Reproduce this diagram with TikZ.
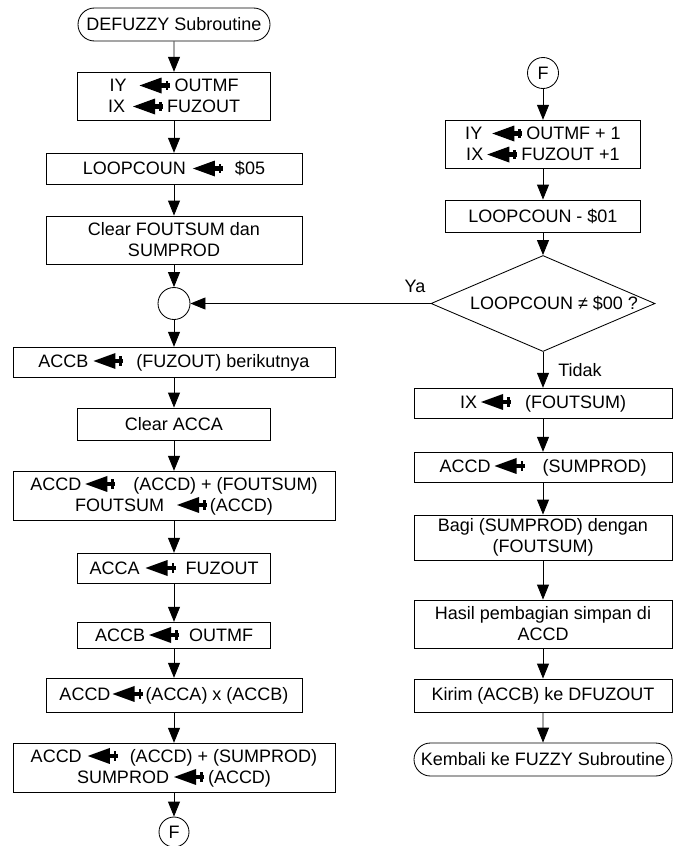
\documentclass[tikz,border=0pt]{standalone}
\usepackage{fontspec}
\setmainfont{Liberation Sans}
\usetikzlibrary{arrows.meta,shapes.geometric,shapes.misc}
\newcommand\fatarr{\tikz[baseline={(0,-6.3bp)},x=1bp,y=1bp]{\fill (0,0)--(22,8)--(22,-8)--cycle; \fill (21,-2.4) rectangle (30,2.4); \fill (26,-4.6) rectangle (28.5,4.6);}}
\newcommand\gp[1]{\hspace*{#1bp}}
\begin{document}
\begin{tikzpicture}[x=1bp,y=-1bp, line width=0.85bp,
 every node/.style={font=\fontsize{18bp}{21bp}\selectfont, inner sep=0pt},
 box/.style 2 args={draw, rectangle, align=center, minimum width=#1, minimum height=#2},
 term/.style 2 args={draw, rounded rectangle, align=center, minimum width=#1, minimum height=#2},
 conn/.style={draw, circle, minimum size=#1},
 flow/.style={-{Triangle[length=15bp,width=12bp]}}]
\useasboundingbox (0,0) rectangle (680,846);
% left column
\node[term={192bp}{33bp}] (t1) at (174,24.5) {DEFUZZY Subroutine};
\node[box={193bp}{48bp}] (b2) at (174,96) {IY\gp{13}\fatarr\gp{5}OUTMF\\IX\gp{8}\fatarr\gp{4}FUZOUT};
\node[box={256bp}{31bp}] (b3) at (174,168.5) {LOOPCOUN\gp{7}\fatarr\gp{12}\$05};
\node[box={256bp}{48bp}] (b4) at (174,240) {Clear FOUTSUM dan\\SUMPROD};
\node[conn=32bp] (c1) at (174,303.5) {};
\node[box={322bp}{30bp}] (b5) at (174,362) {ACCB\gp{5}\fatarr\gp{13}(FUZOUT) berikutnya};
\node[box={193bp}{32bp}] (b6) at (174,424) {Clear ACCA};
\node[box={322bp}{49bp}] (b7) at (174,495.5) {ACCD\gp{4}\fatarr\gp{18}(ACCD) + (FOUTSUM)\\FOUTSUM\gp{13}\fatarr\gp{3}(ACCD)};
\node[box={193bp}{30bp}] (b8) at (174,568) {ACCA\gp{6}\fatarr\gp{10}FUZOUT};
\node[box={193bp}{26bp}] (b9) at (174,635) {ACCB\gp{4}\fatarr\gp{10}OUTMF};
\node[box={256bp}{34bp}] (b10) at (174,695) {ACCD\gp{2}\fatarr\gp{3}(ACCA) x (ACCB)};
\node[box={322bp}{49bp}] (b11) at (174,767.5) {ACCD\gp{6}\fatarr\gp{12}(ACCD) + (SUMPROD)\\SUMPROD\gp{5}\fatarr\gp{4}(ACCD)};
\node[conn=30bp] (f1) at (174,832) {F};
% right column
\node[conn=31bp] (f2) at (543,73) {F};
\node[box={195bp}{48bp}] (r1) at (543,144) {IY\gp{10}\fatarr\gp{4}OUTMF + 1\\IX\gp{4}\fatarr\gp{4}FUZOUT +1};
\node[box={195bp}{32bp}] (r2) at (543,216) {LOOPCOUN - \$01};
\node[draw, diamond, minimum width=224bp, minimum height=96bp] (d) at (543,303.5) {};
\node (dt) at (554,303.5) {LOOPCOUN ≠ \$00 ?};
\node[box={258bp}{30bp}] (r3) at (543,403) {IX\gp{4}\fatarr\gp{14}(FOUTSUM)};
\node[box={258bp}{30bp}] (r4) at (543,467) {ACCD\gp{4}\fatarr\gp{18}(SUMPROD)};
\node[box={258bp}{45bp}] (r5) at (543,537.5) {Bagi (SUMPROD) dengan\\(FOUTSUM)};
\node[box={258bp}{48bp}] (r6) at (543,624) {Hasil pembagian simpan di\\ACCD};
\node[box={258bp}{33bp}] (r7) at (543,695.5) {Kirim (ACCB) ke DFUZOUT};
\node[term={258bp}{33bp}] (r8) at (543,759.5) {Kembali ke FUZZY Subroutine};
\node (ya) at (415,286) {Ya};
\node (tidak) at (580,370) {Tidak};
% connectors
\draw[flow] (t1) -- (b2);
\draw[flow] (b2) -- (b3);
\draw[flow] (b3) -- (b4);
\draw[flow] (b4) -- (c1);
\draw[flow] (c1) -- (b5);
\draw[flow] (b5) -- (b6);
\draw[flow] (b6) -- (b7);
\draw[flow] (b7) -- (b8);
\draw[flow] (b8) -- (b9);
\draw[flow] (b9) -- (b10);
\draw[flow] (b10) -- (b11);
\draw[flow] (b11) -- (f1);
\draw[flow] (f2) -- (r1);
\draw[flow] (r1) -- (r2);
\draw[flow] (r2) -- (d.north);
\draw[flow] (d.west) -- (c1.east);
\draw[flow] (d.south) -- (r3);
\draw[flow] (r3) -- (r4);
\draw[flow] (r4) -- (r5);
\draw[flow] (r5) -- (r6);
\draw[flow] (r6) -- (r7);
\draw[flow] (r7) -- (r8);
\end{tikzpicture}
\end{document}
